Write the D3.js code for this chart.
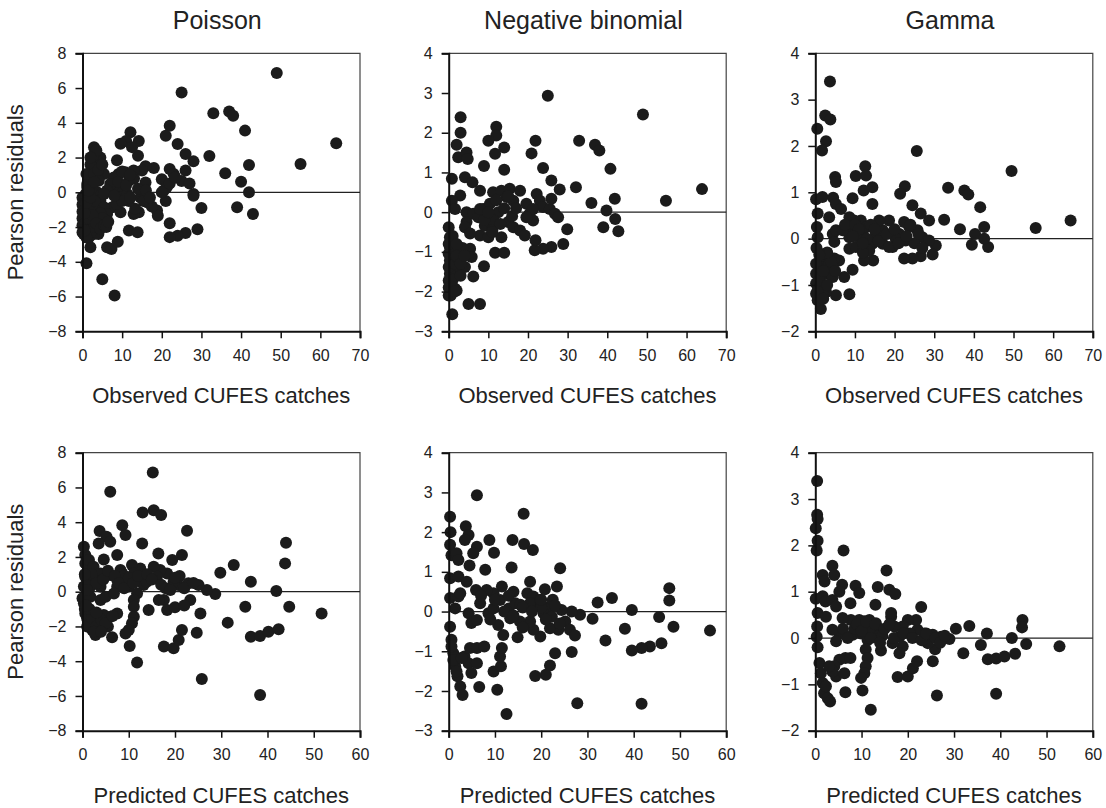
<!DOCTYPE html>
<html>
<head>
<meta charset="utf-8">
<script src="https://cdn.jsdelivr.net/npm/d3@7"></script>
<style>
  body { margin: 0; background: #fff; }
  svg { display: block; font-family: "Liberation Sans", Arial, sans-serif; }
</style>
</head>
<body>
<div id="chart"></div>
<script>
const w = 1106;
const h = 808;

const titles = ["Poisson", "Negative binomial", "Gamma"];
const xLabels = ["Observed CUFES catches", "Predicted CUFES catches"];
const yLabel = "Pearson residuals";
const yDomains = [[-8, 8], [-3, 4], [-2, 4]];
const yTicks = [[-8, -6, -4, -2, 0, 2, 4, 6, 8], [-3, -2, -1, 0, 1, 2, 3, 4], [-2, -1, 0, 1, 2, 3, 4]];
const xDomains = [[0, 70], [0, 60]];
const xTicks = [[0, 10, 20, 30, 40, 50, 60, 70], [0, 10, 20, 30, 40, 50, 60]];

// residuals vs observed catches
const poissonObserved = [
  [49,6.86],[25,5.75],[33,4.55],[37,4.65],[38,4.4],[41,3.55],[64,2.82],[55,1.63],[42,1.57],[32,2.09],
  [36,1.09],[40,0.61],[42,0],[39,-0.86],[43,-1.25],[30,-0.9],[29,-2.13],[26,-2.34],[24,-2.5],[22,-2.58],
  [22,-1.78],[22,3.83],[21,3.26],[24,2.78],[26,2.2],[28,1.78],[26,1.25],[22,1.34],[23,1.05],[20,0.75],
  [25,0.65],[27,0.5],[28,-0.1],[28,-0.2],[20.5,0.1],[21.3,0.3],[21,-0.5],[20,0],[22,0.5],[23.4,0.85],
  [18.8,-1.05],[19,-1.35],[17.5,-0.82],[16.3,-0.57],[18,1.4],[15.9,1.5],[15,1.25],[15.9,0.57],[14.6,-0.3],[15.4,-0.5],
  [14.2,-1.15],[12.9,-1.25],[13.3,-0.95],[11.7,-0.5],[11.7,-2.2],[13.9,-2.3],[14,2.1],[14.2,2.95],[12.1,3.45],[11,2.95],
  [9.6,2.8],[12.5,2.6],[8.7,1.85],[9.1,1.05],[7.9,0.85],[8.3,0.3],[10.8,1.15],[12.9,1.25],[11.7,0.67],[10.4,0.1],
  [9.6,-0.3],[11.3,-0.1],[7.5,-0.86],[9.6,-1.15],[8.6,-0.67],[7,0.48],[6.2,0.1],[5.4,1.05],[4.5,2],[3.7,1.8],
  [2.9,2.6],[3,2.2],[2,1.6],[2.4,1.45],[1.6,0.86],[1.2,0.48],[1,1.05],[2.9,1.05],[4.1,0.67],[3.7,0],
  [4.5,-0.48],[5.4,-0.1],[5.4,-0.86],[6.2,-1.25],[5.8,-1.63],[4.5,-1.82],[3.7,-2.2],[2.9,-2.4],[1.6,-2.6],[0.8,-2.4],
  [0.3,-2],[0.3,-1.44],[0.3,-0.86],[0.3,-0.48],[1.2,-1.25],[2,-1.63],[2.9,-1.82],[2,-0.86],[3.3,-1.05],[3.7,-1.44],
  [2,-3.16],[1,-4.08],[5,-5],[8.1,-5.94],[6.2,-3.16],[7.3,-3.26],[8.9,-2.84],[0.8,-0.1],[1.2,0.3],[0.3,-2.4],
  [1.2,-2],[0,-0.3],[0,-0.7],[0,-1.1],[0,-1.5],[0,-1.9],[0,-2.3],[1,-1.7],[2.5,-2.1],[4,-2.4],
  [1.5,-1],[3,-0.5],[4.5,-1.2],[2.5,0.3],[1,-2.2],[2,-2.3],[3,-2],[4,-1.6],[5,-1.5],[1.5,-1.5],
  [2.5,-1.3],[3.5,-1.8],[4.5,-2.1],[5.5,-1.9],[0.5,-1.2],[1,-0.6],[2,-0.3],[1.5,0.1],[3,0.6],[4,1.3],
  [5,1.6],[3.5,2.4],[2,2],[6,-2],[6.5,-1.7],[1,-2.6],[0.5,-2.2],[9,0.6],[10,-0.5],[11,0.4],
  [12,-0.3],[13,0.8],[14,0.2],[8,-0.2],[10,1.2],[12,1],[16,0.1],[17,-0.3]
];

const negbinObserved = [
  [25,2.93],[49,2.46],[3,2.39],[3,2],[12,2.15],[12,1.93],[10,1.8],[14,1.63],[11.7,1.47],[20.9,1.48],
  [21.9,1.8],[32.9,1.8],[36.9,1.7],[38,1.55],[40.8,1.09],[23.8,1.11],[25.9,0.8],[28,0.57],[32.1,0.63],[36,0.23],
  [41.9,0.34],[39.8,0.04],[42,-0.17],[42.8,-0.48],[39,-0.38],[54.8,0.29],[63.9,0.58],[29.9,-0.43],[28.9,-0.8],[25.9,-0.88],
  [23.8,-0.92],[21.7,-0.96],[21.9,-0.71],[14,1.07],[8.9,1.16],[2,1.7],[2.4,1.38],[4.5,1.5],[4.8,1.34],[0.8,0.84],
  [4.1,0.88],[6,0.75],[2.9,0.42],[0.8,0.29],[1.6,0.08],[4.5,0],[4.5,-0.25],[4.1,-0.38],[6.2,-0.04],[7.9,0.54],
  [8.7,0.08],[7.5,-0.13],[7.9,-0.59],[10,-0.63],[9.1,-0.34],[10.4,0.21],[11.2,0.5],[13.3,0.54],[15.4,0.59],[16.3,0.29],
  [18,0.54],[14.6,0.38],[12.5,0],[11.3,-0.21],[11,-0.46],[13.3,-0.63],[15,-0.25],[16.3,-0.38],[18,-0.46],[19.2,-0.59],
  [11.7,-1.02],[14,-1.02],[8.9,-1.36],[6.2,-1.62],[5,-2.31],[7.9,-2.31],[0.9,-2.57],[0,-2.1],[1.6,-1.93],[2,-1.97],
  [2.9,-1.38],[3.3,-1.05],[5.4,-0.92],[5.8,-1.13],[4.1,-1.38],[2,-1.55],[0.3,-1.55],[0.3,-1.22],[0.3,-0.88],[0.3,-0.63],
  [0,-0.38],[0,-1.05],[0,-1.38],[0,-1.72],[1.6,-1.3],[1.2,-1.05],[19.6,0.21],[20.4,-0.04],[21.3,-0.21],[22.2,0.46],
  [23,0.29],[23.8,0.13],[25.5,0.08],[26.8,-0.04],[27.6,-0.13],[25.9,0.34],[21.3,0.08],[19.6,-0.13],[5.4,-0.54],[7.9,0.08],
  [0,-0.8],[0,-1.9],[1,-1.7],[2.5,-1.2],[3.5,-0.9],[1,-1.9],[2,-1.1],[3,-1.6],[1,-0.6],[2,-0.8],
  [0.5,-2.1],[3,-1.3],[4,-1.1],[1.5,-2],[9,-0.2],[10,0],[12,0.3],[13,-0.3],[14,0.1],[16,-0.1],
  [17,0.1],[11,-0.5],[15,0.4]
];

const gammaObserved = [
  [3.7,3.39],[2.5,2.66],[3.8,2.57],[0.5,2.37],[2.7,2.1],[1.7,1.9],[25.6,1.89],[49.5,1.46],[12.6,1.56],[10.2,1.35],
  [12.8,1.36],[5,1.33],[5.2,1.22],[14.4,1.11],[12.2,1.04],[22.6,1.13],[21.4,0.97],[33.5,1.1],[37.6,1.04],[38.6,0.95],
  [41.6,0.68],[24.5,0.72],[14.4,0.75],[9.4,0.87],[0.2,0.85],[1.8,0.9],[4.5,0.88],[5.2,0.75],[6.5,0.64],[0.6,0.54],
  [3.5,0.46],[0.4,0.25],[0.6,0.03],[0.3,-0.2],[32.5,0.41],[36.5,0.2],[55.6,0.23],[64.4,0.39],[42.6,0.25],[40.3,0.1],
  [39.5,-0.13],[43.6,-0.18],[42.6,0],[28.7,0.39],[26.6,0.54],[30.4,-0.15],[29.6,-0.34],[26.6,-0.38],[24.5,-0.43],[22.4,-0.43],
  [25.8,0.18],[23.7,0.25],[22.4,0.36],[21.2,0.1],[19.5,-0.18],[20.3,0],[22.8,-0.04],[27,0.03],[28.7,-0.04],[18.6,0.39],
  [17,0.18],[16.1,0.39],[15.3,0.1],[14.4,-0.11],[14.6,-0.47],[12.3,-0.47],[13.6,-0.26],[11.9,0.1],[11.5,0.39],[9.8,0.39],
  [8.6,0.46],[9,0.25],[8.6,0.03],[8.6,-0.22],[10.2,-0.18],[9.4,-0.67],[7.3,-0.83],[5.2,-1.22],[8.6,-1.2],[6,-0.47],
  [4.4,0.1],[4.8,-0.07],[5.2,0.18],[4.8,-0.43],[4.4,-0.61],[3.1,-0.76],[2.7,-0.47],[1.4,-0.61],[1.4,-0.97],[2.7,-1.15],
  [1.4,-1.52],[0.6,-1.33],[0.2,-1.19],[0.2,-0.97],[0.2,-0.76],[0.2,-0.54],[1.8,-1.19],[0.6,-1.12],[4.4,-0.83],[2.3,-0.33],
  [6.9,0.18],[17,-0.11],[18.6,-0.18],[13,0.25],[10.8,0.05],[7.5,0.3],[1.2,-0.85],[3.5,-0.55],[25,-0.1],[12,-0.3],
  [1,-0.9],[2,-0.7],[3,-1],[2,-1.3],[4,-0.5],[3,-0.3],[1,-0.35],[5,-0.7],[10,0.3],[11,0.2],
  [13,0],[14,0.3],[15,0.2],[16,-0.05],[18,0.1],[20,0.2],[21,-0.1],[23,0.05],[24,0.3],[26,0.1],
  [27,-0.2],[12,-0.1],[9.5,0.05]
];

// residuals vs predicted catches
const poissonPredicted = [
  [15.2,6.86],[6,5.75],[13,4.56],[15.4,4.69],[17,4.41],[22.6,3.51],[8.6,3.83],[9.3,3.26],[12.9,2.78],[3.7,3.49],
  [5.2,3.16],[3.5,2.78],[6,2.87],[7.5,2.11],[4.6,1.86],[16.4,2.2],[21.5,2.11],[19.4,1.82],[44,2.82],[43.8,1.63],
  [32.7,1.53],[29.8,1.09],[36.4,0.57],[41.9,0.04],[44.7,-0.86],[51.7,-1.25],[35.2,-0.86],[31.4,-1.78],[36.4,-2.59],[38.4,-2.55],
  [40.2,-2.3],[42.4,-2.16],[38.4,-5.94],[25.8,-5.02],[11.8,-4.08],[10.2,-3.12],[17.6,-3.16],[19.7,-3.26],[20.8,-2.78],[21.5,-2.2],
  [24.7,-2.36],[25.5,-1.25],[23.3,-0.48],[28.7,-0.13],[26.9,0.1],[25.1,0.38],[22.9,0.48],[20.7,0.38],[19.7,0.57],[18.3,1.05],
  [16.8,1.25],[15.4,1.44],[16.1,0.86],[17.6,-0.48],[18.3,-1.05],[16.5,-0.48],[14.3,-1.05],[13.2,0.38],[13.9,0.57],[12.5,1.34],
  [10.7,1.53],[11.1,1.05],[11.8,-0.1],[11.1,-0.48],[11.1,-0.86],[11.1,-1.44],[10.7,-1.82],[10,-2.2],[9.3,-2.4],[6.4,-2.62],
  [7.5,-1.25],[6,-1.44],[5.5,-2.01],[3.9,-2.2],[2.8,-2.49],[2.1,-2.2],[1.4,-1.82],[0.6,-1.25],[0.3,-0.67],[0,-0.38],
  [1,-1.53],[3.2,-1.63],[4.6,-1.34],[3.9,-0.48],[5,-0.29],[3.9,0.29],[1.7,0.29],[0.6,0.86],[1.4,1.25],[0.6,1.63],
  [0.6,2.11],[0.3,2.59],[1.4,1.82],[2.4,1.44],[3.9,1.05],[6,0.96],[7.5,0.67],[8.6,1.05],[9.6,0.57],[8.2,1.25],
  [7.5,0.29],[6.8,-0.1],[2.4,0.67],[1.7,-0.29],[0.3,0.3],[0.5,-1],[2,-1.9],[4.5,-1.9],[1,0.5],[9,0.9],
  [18,0.2],[21,0.9],[10,0.3],[20,-0.9],[22,-0.8],[1,-2],[2,-1.5],[3,-2],[4,-1.6],[5,-1.8],
  [1.5,-1],[2.5,-2.3],[0.8,-0.8],[3,-1.2],[6.5,-1.4],[4,-2.3],[2,1],[3,0.5],[4.5,0.7],[5.5,1.2],
  [7,0.9],[8,0.5],[9,0.2],[10,0.8],[11,0.5],[12,0.9],[14,1],[15,0.7],[17,0.4],[19,0.1],
  [20,0.8],[22,0.2],[24,0.5],[1,0.1],[0.5,1]
];

const negbinPredicted = [
  [6.1,2.93],[16.2,2.46],[0.3,2.39],[0.4,2],[0.3,1.68],[0.6,1.42],[1.7,1.47],[2.1,1.3],[3.7,2.15],[4.3,1.93],
  [3.5,1.8],[6.1,1.63],[5.3,1.47],[8.8,1.8],[9.8,1.48],[13.8,1.8],[16.3,1.7],[18.2,1.55],[24.1,1.09],[13.6,1.11],
  [7.9,1.05],[4.5,1.16],[0.3,0.84],[2.1,0.88],[3.9,0.75],[17.6,0.75],[23.4,0.63],[20.8,0.56],[32.2,0.23],[35.3,0.34],
  [39.6,0.04],[47.7,0.59],[47.7,0.28],[45.5,-0.14],[48.6,-0.38],[56.5,-0.48],[46,-0.8],[43.5,-0.88],[41.7,-0.92],[39.6,-0.98],
  [38.1,-0.43],[33.9,-0.73],[31.1,-0.18],[28.4,-0.08],[26.6,0],[24.4,0.04],[21.9,0.13],[20.5,-0.04],[22.3,-0.13],[25.2,-0.25],
  [26.2,-0.46],[27.3,-0.6],[23.7,-0.46],[21.9,-0.42],[19.8,-0.63],[18.3,-0.46],[17.6,-0.25],[15.4,-0.25],[14.9,-0.65],[26.6,-1.02],
  [23,-1.05],[21.9,-1.36],[21,-1.59],[18.7,-1.62],[27.8,-2.31],[41.7,-2.32],[12.5,-2.58],[10.5,-1.97],[6.6,-1.9],[9.7,-1.51],
  [11.3,-1.38],[11.1,-1.13],[11.5,-0.92],[11.8,-0.59],[10.7,-0.34],[13.3,-0.17],[13,0.08],[14.4,0.21],[15.5,0.17],[14,0.5],
  [11.5,0.63],[9.7,0.46],[8.2,0.54],[5.9,0.54],[6.8,0.21],[8.6,-0.04],[9.7,0.08],[11.1,0.29],[17,0.46],[18.3,0.38],
  [19,0.21],[17.6,0.21],[19.8,0.29],[4.3,-0.04],[4.9,-0.29],[6.1,-0.21],[0.3,0.34],[2.1,0.38],[1.4,0.08],[2.5,0.46],
  [0.3,-0.38],[0.6,-0.71],[1,-1.05],[1.4,-1.38],[1.9,-1.63],[2.5,-1.89],[3,-2.1],[0.6,-0.88],[1,-1.22],[1.7,-1.51],
  [3.4,-1.13],[4.3,-1.3],[4.9,-1.55],[6.1,-1.3],[4.6,-0.92],[6.1,-0.92],[7.7,-0.88],[2.8,-1.17],[22.5,0.3],[20,0.1],
  [7,0.4],[10,0.3],[12,0],[14,-0.1],[16,0.1],[18,0],[20,0.3],[21,-0.2],[23,0.15],[24,-0.3],
  [9,-0.2],[13,0.4],[16,-0.4]
];

const gammaPredicted = [
  [0.4,3.39],[0.4,2.66],[0.5,2.57],[0.1,2.37],[0.5,2.1],[0.3,1.89],[6.1,1.89],[15.4,1.46],[3.7,1.56],[1.6,1.36],
  [4.1,1.36],[2,1.22],[5.8,1.15],[5.2,1],[8.7,1.13],[9.5,0.97],[13.5,1.1],[16,1.04],[17.3,0.95],[22.9,0.67],
  [13,0.72],[7.6,0.75],[0.1,0.85],[1.6,0.9],[2.2,0.79],[3.7,0.82],[4.5,0.68],[0.5,0.54],[2.3,0.46],[0.4,0.25],
  [0.3,0.03],[0.5,-0.2],[30.4,0.2],[33.3,0.26],[37.1,0.1],[44.8,0.39],[44.7,0.23],[42.5,0],[35.8,-0.15],[45.6,-0.13],
  [52.8,-0.18],[32,-0.33],[37.3,-0.46],[39.1,-0.44],[40.9,-0.4],[43.2,-0.34],[39.1,-1.2],[26.3,-1.24],[12,-1.55],[10.2,-1.13],
  [6.5,-1.17],[17.8,-0.84],[20,-0.83],[21.1,-0.65],[22,-0.5],[25.4,-0.5],[25.9,-0.24],[24.3,-0.11],[29,-0.02],[27.2,0.03],
  [25.4,0.07],[23.6,0.1],[22.1,0.18],[21.8,0.39],[20,0.39],[18.9,0.25],[17.1,0.25],[16.4,0.46],[16.4,0.54],[18.2,0.03],
  [18.9,-0.18],[18.2,-0.33],[16.7,-0.11],[14.2,-0.27],[13.8,0.18],[13.1,0.32],[11.7,0.39],[10.6,0.36],[9.5,0.39],[7.7,0.39],
  [5.9,0.43],[8.1,0.07],[9.9,0.1],[11.3,-0.04],[10.9,-0.25],[11.3,-0.43],[10.9,-0.61],[10.6,-0.76],[9.9,-0.86],[5.2,0.1],
  [4.5,-0.07],[3.7,0.18],[5.2,-0.47],[6.5,-0.43],[7.6,-0.43],[4.1,-0.61],[4.5,-0.83],[3.7,-0.72],[6.3,-0.76],[0.9,-0.54],
  [1.2,-0.76],[1.6,-0.97],[1.9,-1.19],[2.7,-1.3],[3.2,-1.37],[2.3,-1.04],[3,-0.61],[12.5,0.1],[14.5,0.05],[8.5,0.2],
  [20.5,0.1],[11.8,0.2],[6,0.2],[7,0],[9,0.3],[10,0.15],[11,0.35],[12,0],[13,0.3],[14,-0.1],
  [15,0.2],[16,0.3],[17,0],[19,0.1],[21,0],[23,-0.05],[24,0.1],[26,0],[27,-0.1],[28,0.05]
];

const panelData = [
  [poissonObserved, negbinObserved, gammaObserved],
  [poissonPredicted, negbinPredicted, gammaPredicted]
];

const colLeft = [82.5, 448.7, 815.3];
const rowTop = [53.3, 452.7];
const pw = 277.5;
const ph = 278;

const svg = d3.select("#chart")
  .append("svg")
  .attr("width", w)
  .attr("height", h);

for (let r = 0; r < 2; r++) {
  for (let c = 0; c < 3; c++) {
    const g = svg.append("g")
      .attr("transform", `translate(${colLeft[c]}, ${rowTop[r]})`);

    const xScale = d3.scaleLinear().domain(xDomains[r]).range([0, pw]);
    const yScale = d3.scaleLinear().domain(yDomains[c]).range([ph, 0]);

    // frame top/right
    g.append("path")
      .attr("d", `M0,0H${pw}V${ph}`)
      .attr("fill", "none")
      .attr("stroke", "#444")
      .attr("stroke-width", 1.2);

    // zero line
    g.append("line")
      .attr("x1", 0).attr("x2", pw)
      .attr("y1", yScale(0)).attr("y2", yScale(0))
      .attr("stroke", "#222")
      .attr("stroke-width", 1.2);

    // points
    g.selectAll("circle")
      .data(panelData[r][c])
      .enter()
      .append("circle")
      .attr("cx", d => xScale(d[0]))
      .attr("cy", d => yScale(d[1]))
      .attr("r", 6)
      .attr("fill", "#1b1b1b");

    const xAxis = d3.axisBottom(xScale)
      .tickValues(xTicks[r])
      .tickFormat(d3.format("d"))
      .tickSizeOuter(0)
      .tickSize(7)
      .tickPadding(11);
    const yAxis = d3.axisLeft(yScale)
      .tickValues(yTicks[c])
      .tickFormat(d3.format("d"))
      .tickSizeOuter(0)
      .tickSize(7)
      .tickPadding(9);

    const gx = g.append("g")
      .attr("transform", `translate(0, ${ph})`)
      .call(xAxis);
    const gy = g.append("g").call(yAxis);

    [gx, gy].forEach(a => {
      a.select(".domain").attr("stroke", "#111").attr("stroke-width", 2);
      a.selectAll(".tick line").attr("stroke", "#111").attr("stroke-width", 1.5);
      a.selectAll(".tick text")
        .attr("fill", "#222")
        .style("font-size", "16px")
        .style("font-family", "'Liberation Sans', Arial, sans-serif");
    });

    // x label
    g.append("text")
      .attr("x", pw / 2)
      .attr("y", ph + 72)
      .attr("text-anchor", "middle")
      .style("font-size", "22px")
      .attr("fill", "#222")
      .text(xLabels[r]);

    if (r === 0) {
      g.append("text")
        .attr("x", pw / 2 - 4)
        .attr("y", -24)
        .attr("text-anchor", "middle")
        .style("font-size", "25px")
        .attr("fill", "#222")
        .text(titles[c]);
    }

    if (c === 0) {
      g.append("text")
        .attr("transform", `translate(${-60}, ${ph / 2}) rotate(-90)`)
        .attr("text-anchor", "middle")
        .style("font-size", "22px")
        .attr("fill", "#222")
        .text(yLabel);
    }
  }
}
</script>
</body>
</html>
